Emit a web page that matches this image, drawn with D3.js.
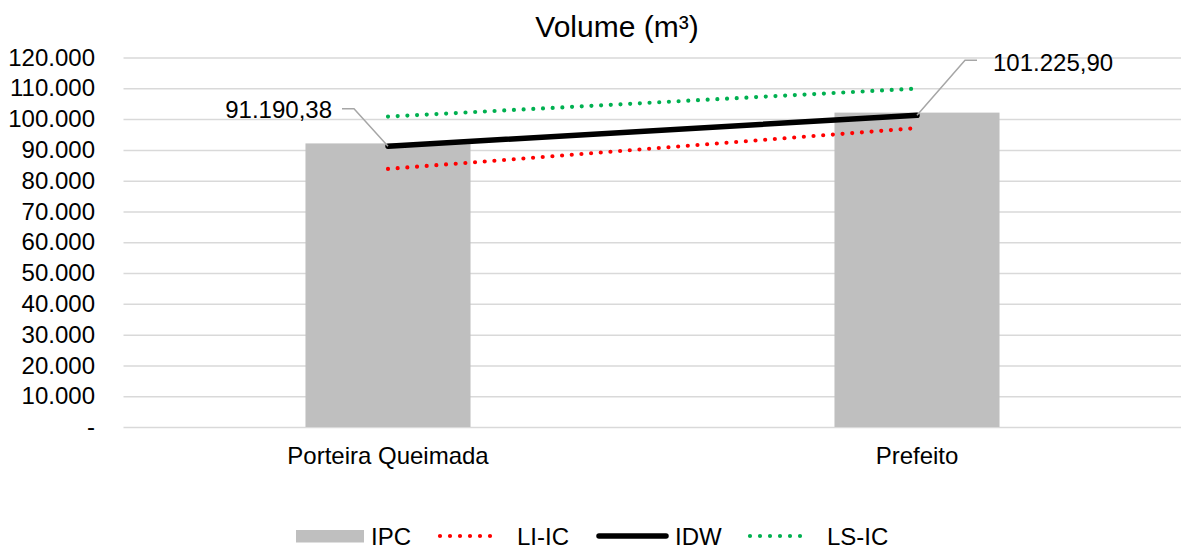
<!DOCTYPE html>
<html>
<head>
<meta charset="utf-8">
<script src="https://cdn.jsdelivr.net/npm/d3@7"></script>
<style>
  body { margin: 0; background: #fff; }
  svg { display: block; font-family: "Liberation Sans", Arial, sans-serif; }
</style>
</head>
<body>
<svg id="chart" width="1181" height="548"></svg>
<script>
// Volume per site
const categories = ["Porteira Queimada", "Prefeito"];
const ipc = [92100, 102100];
const liIc = [83800, 97100];
const idw = [91190.38, 101225.90];
const lsIc = [100800, 109900];
const yTicks = [0, 10000, 20000, 30000, 40000, 50000, 60000, 70000, 80000, 90000, 100000, 110000, 120000];
const legendItems = ["IPC", "LI-IC", "IDW", "LS-IC"];

const locale = d3.formatLocale({ decimal: ",", thousands: ".", grouping: [3], currency: ["R$", ""] });
const fmtTick = locale.format(",.0f");
const fmtLabel = locale.format(",.2f");

const svg = d3.select("#chart");
const W = 1181;
const plotLeft = 123.5, plotRight = 1181.5, plotTop = 57.5, plotBottom = 427;
const FONT = "Liberation Sans, Arial, sans-serif";

const x = d3.scaleBand().domain(categories).range([plotLeft, plotRight]).padding(0);
const y = d3.scaleLinear().domain([0, 120000]).range([plotBottom, plotTop]);
const cx = c => x(c) + x.bandwidth() / 2;

const GRID = "#D9D9D9", BAR = "#BFBFBF", RED = "#FF0000", GREEN = "#00B050", LEADER = "#A6A6A6";

// Title
svg.append("text")
  .attr("x", 617).attr("y", 37)
  .attr("text-anchor", "middle")
  .style("font-size", "30px").style("fill", "#000")
  .text("Volume (m³)");

// Y axis with gridlines
const yAxis = d3.axisLeft(y)
  .tickValues(yTicks)
  .tickSize(-(W - plotLeft))
  .tickPadding(28.5)
  .tickFormat(d => d === 0 ? "-" : fmtTick(d));
const gy = svg.append("g").attr("transform", `translate(${plotLeft},0)`).call(yAxis);
gy.select(".domain").remove();
gy.selectAll(".tick line").attr("stroke", GRID).attr("stroke-width", 1.5);
gy.selectAll(".tick text").style("font-size", "24px").style("fill", "#000").style("font-family", FONT);

// X axis labels
const xAxis = d3.axisBottom(x).tickSize(0).tickPadding(0);
const gx = svg.append("g").attr("transform", `translate(0,${plotBottom})`).call(xAxis);
gx.select(".domain").remove();
gx.selectAll(".tick text").attr("y", 37).attr("dy", 0)
  .style("font-size", "24px").style("fill", "#000").style("font-family", FONT);

// Bars (IPC)
const barW = x.bandwidth() * 0.312;
svg.append("g").selectAll("rect").data(categories).join("rect")
  .attr("x", c => cx(c) - barW / 2)
  .attr("y", (c, i) => y(ipc[i]))
  .attr("width", barW)
  .attr("height", (c, i) => y(0) - y(ipc[i]))
  .attr("fill", BAR);

// Lines
const line = d3.line().x(d => cx(d.c)).y(d => y(d.v));
const pts = arr => categories.map((c, i) => ({ c, v: arr[i] }));

svg.append("path").datum(pts(liIc)).attr("d", line)
  .attr("fill", "none").attr("stroke", RED).attr("stroke-width", 4.2)
  .attr("stroke-linecap", "round").attr("stroke-dasharray", "0 9.7");
svg.append("path").datum(pts(lsIc)).attr("d", line)
  .attr("fill", "none").attr("stroke", GREEN).attr("stroke-width", 4.2)
  .attr("stroke-linecap", "round").attr("stroke-dasharray", "0 9.7");
svg.append("path").datum(pts(idw)).attr("d", line)
  .attr("fill", "none").attr("stroke", "#000").attr("stroke-width", 5.5)
  .attr("stroke-linecap", "round");

// Data labels with leader lines
const p0 = { x: cx(categories[0]), y: y(idw[0]) };
const p1 = { x: cx(categories[1]), y: y(idw[1]) };
svg.append("path")
  .attr("d", `M${p0.x},${p0.y} L${p0.x - 34},${p0.y - 37.5} L${p0.x - 46},${p0.y - 37.5}`)
  .attr("fill", "none").attr("stroke", LEADER).attr("stroke-width", 1.5);
svg.append("text")
  .attr("x", p0.x - 56).attr("y", p0.y - 28.5)
  .attr("text-anchor", "end")
  .style("font-size", "24px").style("fill", "#000")
  .text(fmtLabel(idw[0]));
svg.append("path")
  .attr("d", `M${p1.x},${p1.y} L${p1.x + 48},${p1.y - 55} L${p1.x + 60},${p1.y - 55}`)
  .attr("fill", "none").attr("stroke", LEADER).attr("stroke-width", 1.5);
svg.append("text")
  .attr("x", p1.x + 76).attr("y", p1.y - 44.5)
  .attr("text-anchor", "start")
  .style("font-size", "24px").style("fill", "#000")
  .text(fmtLabel(idw[1]));

// Legend
const lg = svg.append("g");
const ly = 536;
lg.append("rect").attr("x", 296).attr("y", ly - 6).attr("width", 68).attr("height", 12.5).attr("fill", BAR);
lg.append("line").attr("x1", 440).attr("x2", 500).attr("y1", ly).attr("y2", ly)
  .attr("stroke", RED).attr("stroke-width", 4.2).attr("stroke-linecap", "round").attr("stroke-dasharray", "0 10");
lg.append("line").attr("x1", 599).attr("x2", 666).attr("y1", ly).attr("y2", ly)
  .attr("stroke", "#000").attr("stroke-width", 5.5).attr("stroke-linecap", "round");
lg.append("line").attr("x1", 750).attr("x2", 810).attr("y1", ly).attr("y2", ly)
  .attr("stroke", GREEN).attr("stroke-width", 4.2).attr("stroke-linecap", "round").attr("stroke-dasharray", "0 10");
const textX = [371, 517, 675, 827];
lg.selectAll("text").data(legendItems).join("text")
  .attr("x", (d, i) => textX[i]).attr("y", ly + 8.5)
  .style("font-size", "24px").style("fill", "#000")
  .text(d => d);
</script>
</body>
</html>
